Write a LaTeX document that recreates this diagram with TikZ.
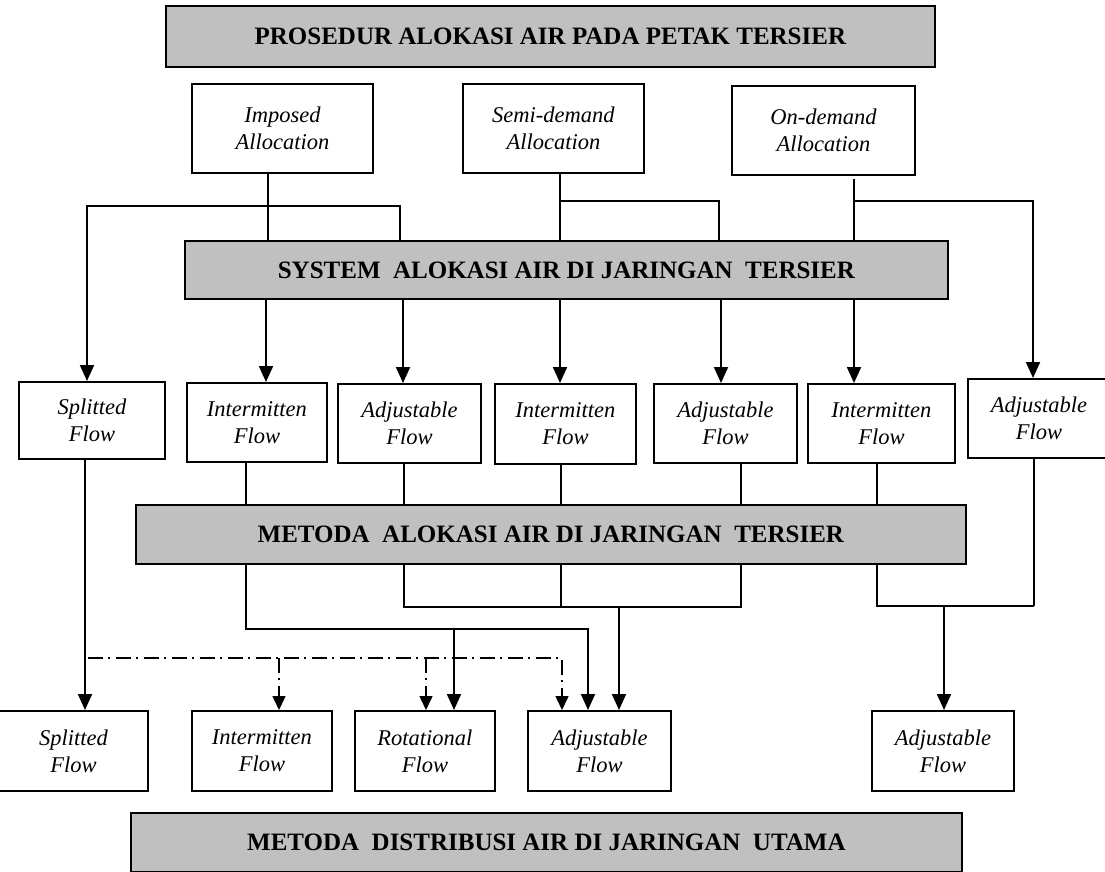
\documentclass[tikz,border=0pt]{standalone}
\usepackage{fontspec}
\setmainfont{Liberation Serif}
\usetikzlibrary{arrows.meta}
\definecolor{boxgray}{HTML}{C0C0C0}
\begin{document}
\begin{tikzpicture}[x=1pt,y=-1pt,
  gbox/.style={draw, line width=1.8pt, fill=boxgray, inner sep=0pt, anchor=north west,
    font=\fontsize{25}{30}\selectfont\bfseries},
  fbox/.style={draw, line width=1.8pt, fill=white, inner sep=0pt, anchor=north west,
    align=center, font=\fontsize{22.5}{27}\selectfont\itshape},
  conn/.style={line width=2pt},
  arr/.style={conn, -{Triangle[width=14pt,length=16pt]}},
  dd/.style={line width=1.5pt, dash pattern=on 15pt off 5pt on 2pt off 6pt},
  ddarr/.style={dd, -{Triangle[width=13pt,length=14pt]}}]
\clip (0,0) rectangle (1105,872);
\fill[white] (0,0) rectangle (1105,872);

% ---- boxes ----
\node[gbox, minimum width=769pt, minimum height=61pt] (title) at (165,5) {PROSEDUR ALOKASI AIR PADA PETAK TERSIER};
\node[fbox, minimum width=181pt, minimum height=89pt] (imp) at (191,83) {Imposed\\Allocation};
\node[fbox, minimum width=181pt, minimum height=89pt] (semi) at (462,83) {Semi-demand\\Allocation};
\node[fbox, minimum width=183pt, minimum height=89pt] (ond) at (731,85) {On-demand\\Allocation};
\node[gbox, minimum width=763pt, minimum height=58pt] (sys) at (184,240) {SYSTEM\ \ ALOKASI AIR DI JARINGAN\ \ TERSIER};

\node[fbox, minimum width=146pt, minimum height=77pt] (sf1) at (18,381) {Splitted\\Flow};
\node[fbox, minimum width=140pt, minimum height=79pt] (if1) at (186,382) {Intermitten\\Flow};
\node[fbox, minimum width=143pt, minimum height=79pt] (af1) at (337,383) {Adjustable\\Flow};
\node[fbox, minimum width=141pt, minimum height=80pt] (if2) at (494,383) {Intermitten\\Flow};
\node[fbox, minimum width=143pt, minimum height=79pt] (af2) at (653,383) {Adjustable\\Flow};
\node[fbox, minimum width=147pt, minimum height=79pt] (if3) at (807,383) {Intermitten\\Flow};
\node[fbox, minimum width=142pt, minimum height=79pt] (af3) at (967,378) {Adjustable\\Flow};

\node[gbox, minimum width=830pt, minimum height=59pt] (met) at (135,504) {METODA\ \ ALOKASI AIR DI JARINGAN\ \ TERSIER};

\node[fbox, minimum width=149pt, minimum height=80pt] (sf2) at (-2,710) {Splitted\\Flow};
\node[fbox, minimum width=140pt, minimum height=80pt] (if4) at (191,710) {Intermitten\\Flow};
\node[fbox, minimum width=140pt, minimum height=80pt] (rot) at (354,710) {Rotational\\Flow};
\node[fbox, minimum width=143pt, minimum height=80pt] (adj4) at (527,710) {Adjustable\\Flow};
\node[fbox, minimum width=142pt, minimum height=80pt] (adj5) at (871,710) {Adjustable\\Flow};

\node[gbox, minimum width=831pt, minimum height=59pt] (dist) at (130,812) {METODA\ \ DISTRIBUSI AIR DI JARINGAN\ \ UTAMA};

% ---- coordinates of junctions ----
\coordinate (i1) at (400,206);
\coordinate (i2) at (87,206);
\coordinate (ia) at (268,0);
\coordinate (s1) at (560,201);
\coordinate (s2) at (719,201);
\coordinate (o1) at (854,201);
\coordinate (o2) at (1033,201);
\coordinate (xb) at (266,0);
\coordinate (xc) at (403,0);
\coordinate (xd) at (560,0);
\coordinate (xe) at (721,0);
\coordinate (xf) at (854,0);
\coordinate (m1) at (246,0);
\coordinate (m2) at (403.5,0);
\coordinate (m3) at (561,0);
\coordinate (m4) at (741,0);
\coordinate (m5) at (877,0);
\coordinate (m6) at (1034,0);
\coordinate (b1) at (246,629);
\coordinate (b2) at (588,629);
\coordinate (b3) at (454,629);
\coordinate (c1) at (403.5,607);
\coordinate (c2) at (741,607);
\coordinate (c3) at (561,607);
\coordinate (c4) at (619,607);
\coordinate (d1) at (877,606);
\coordinate (d2) at (1034,606);
\coordinate (d3) at (944,606);
\coordinate (sp) at (85,0);
\coordinate (e1) at (88,658);
\coordinate (e2) at (562,658);
\coordinate (e3) at (279,658);
\coordinate (e4) at (426,658);

% ---- connectors: allocation boxes to system ----
\draw[conn] (imp.south -| ia) -- (sys.north -| ia);
\draw[arr] (sys.north -| i1) -- (i1) -- (i2) -- (sf1.north -| i2);
\draw[conn] (semi.south -| s1) -- (sys.north -| s1);
\draw[conn] (s1) -- (s2) -- (sys.north -| s2);
\draw[conn, shorten <=3pt] (ond.south -| o1) -- (sys.north -| o1);
\draw[arr] (o1) -- (o2) -- (af3.north -| o2);

% ---- system to flow boxes ----
\draw[arr] (sys.south -| xb) -- (if1.north -| xb);
\draw[arr] (sys.south -| xc) -- (af1.north -| xc);
\draw[arr] (sys.south -| xd) -- (if2.north -| xd);
\draw[arr] (sys.south -| xe) -- (af2.north -| xe);
\draw[arr] (sys.south -| xf) -- (if3.north -| xf);

% ---- flow boxes to method ----
\draw[conn] (if1.south -| m1) -- (met.north -| m1);
\draw[conn] (af1.south -| m2) -- (met.north -| m2);
\draw[conn] (if2.south -| m3) -- (met.north -| m3);
\draw[conn] (af2.south -| m4) -- (met.north -| m4);
\draw[conn] (if3.south -| m5) -- (met.north -| m5);
\draw[conn] (af3.south -| m6) -- (d2);

% ---- method to distribution flows ----
\draw[arr] (met.south -| b1) -- (b1) -- (b2) -- (adj4.north -| b2);
\draw[arr] (b3) -- (rot.north -| b3);
\draw[conn] (met.south -| c1) -- (c1) -- (c2) -- (met.south -| c2);
\draw[conn] (met.south -| c3) -- (c3);
\draw[arr] (c4) -- (adj4.north -| c4);
\draw[conn] (met.south -| d1) -- (d1) -- (d2);
\draw[arr] (d3) -- (adj5.north -| d3);

\draw[arr] (sf1.south -| sp) -- (sf2.north -| sp);

\draw[ddarr] (e1) -- (e2) -- (adj4.north -| e2);
\draw[ddarr] (e3) -- (if4.north -| e3);
\draw[ddarr] (e4) -- (rot.north -| e4);
\end{tikzpicture}
\end{document}
